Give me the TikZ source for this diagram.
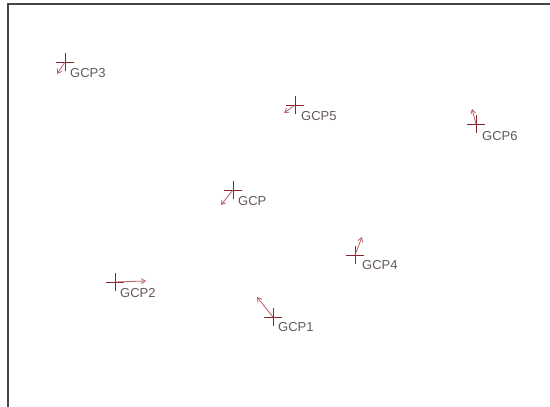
\documentclass[tikz,border=0pt]{standalone}
\usepackage{fontspec}
\setmainfont{Liberation Sans}
\usepackage{xcolor}
\usetikzlibrary{shapes.misc, arrows.meta, positioning}
\definecolor{CrossRed}{RGB}{140,35,45}
\definecolor{VecRed}{RGB}{185,95,100}
\definecolor{LabelGray}{RGB}{100,88,92}
\definecolor{FrameGray}{RGB}{70,70,70}

\begin{document}
\begin{tikzpicture}[
  x=1pt, y=1pt,
  font=\fontsize{13}{13}\selectfont,
  gcp/.style={cross out, draw=CrossRed, rotate=45, minimum size=11.5pt,
              inner sep=0pt, line width=0.8pt},
  vec/.style={-{Straight Barb[length=4pt, width=5pt]}, VecRed, line width=0.8pt},
  lbl/.style={anchor=west, inner sep=0pt, text=LabelGray},
  frame/.style={FrameGray, line width=1.6pt}
]
\useasboundingbox (0,0) rectangle (550,407);

% Frame (top and left edges only)
\coordinate (fbl) at (8,0);
\coordinate (ftl) at (8,403);
\coordinate (ftr) at (550,403);
\draw[frame] (fbl) -- (ftl) -- (ftr);

% Control points
\node[gcp] (g3) at (65,345) {};
\node[gcp] (g5) at (295,302) {};
\node[gcp] (g6) at (476,283) {};
\node[gcp] (g0) at (233,217) {};
\node[gcp] (g4) at (355,152) {};
\node[gcp] (g2) at (115,125) {};
\node[gcp] (g1) at (273,90) {};

% Vector tips
\coordinate (t3) at (57,333);
\coordinate (t5) at (284,294);
\coordinate (t6) at (472,298);
\coordinate (t0) at (221,202);
\coordinate (t4) at (362,170);
\coordinate (t2) at (146,126);
\coordinate (t1) at (257,110);

% Labels
\node[lbl] (l3) at ([shift={(5,-11)}]g3.center) {GCP3};
\node[lbl] (l5) at ([shift={(6,-11)}]g5.center) {GCP5};
\node[lbl] (l6) at ([shift={(6,-12)}]g6.center) {GCP6};
\node[lbl] (l0) at ([shift={(5,-11)}]g0.center) {GCP};
\node[lbl] (l4) at ([shift={(7,-10)}]g4.center) {GCP4};
\node[lbl] (l2) at ([shift={(5,-11)}]g2.center) {GCP2};
\node[lbl] (l1) at ([shift={(5,-10)}]g1.center) {GCP1};

% Residual vectors
\draw[vec] (g3.center) -- (t3);
\draw[vec] (g5.center) -- (t5);
\draw[vec] (g6.center) -- (t6);
\draw[vec] (g0.center) -- (t0);
\draw[vec] (g4.center) -- (t4);
\draw[vec] (g2.center) -- (t2);
\draw[vec] (g1.center) -- (t1);

\end{tikzpicture}
\end{document}
